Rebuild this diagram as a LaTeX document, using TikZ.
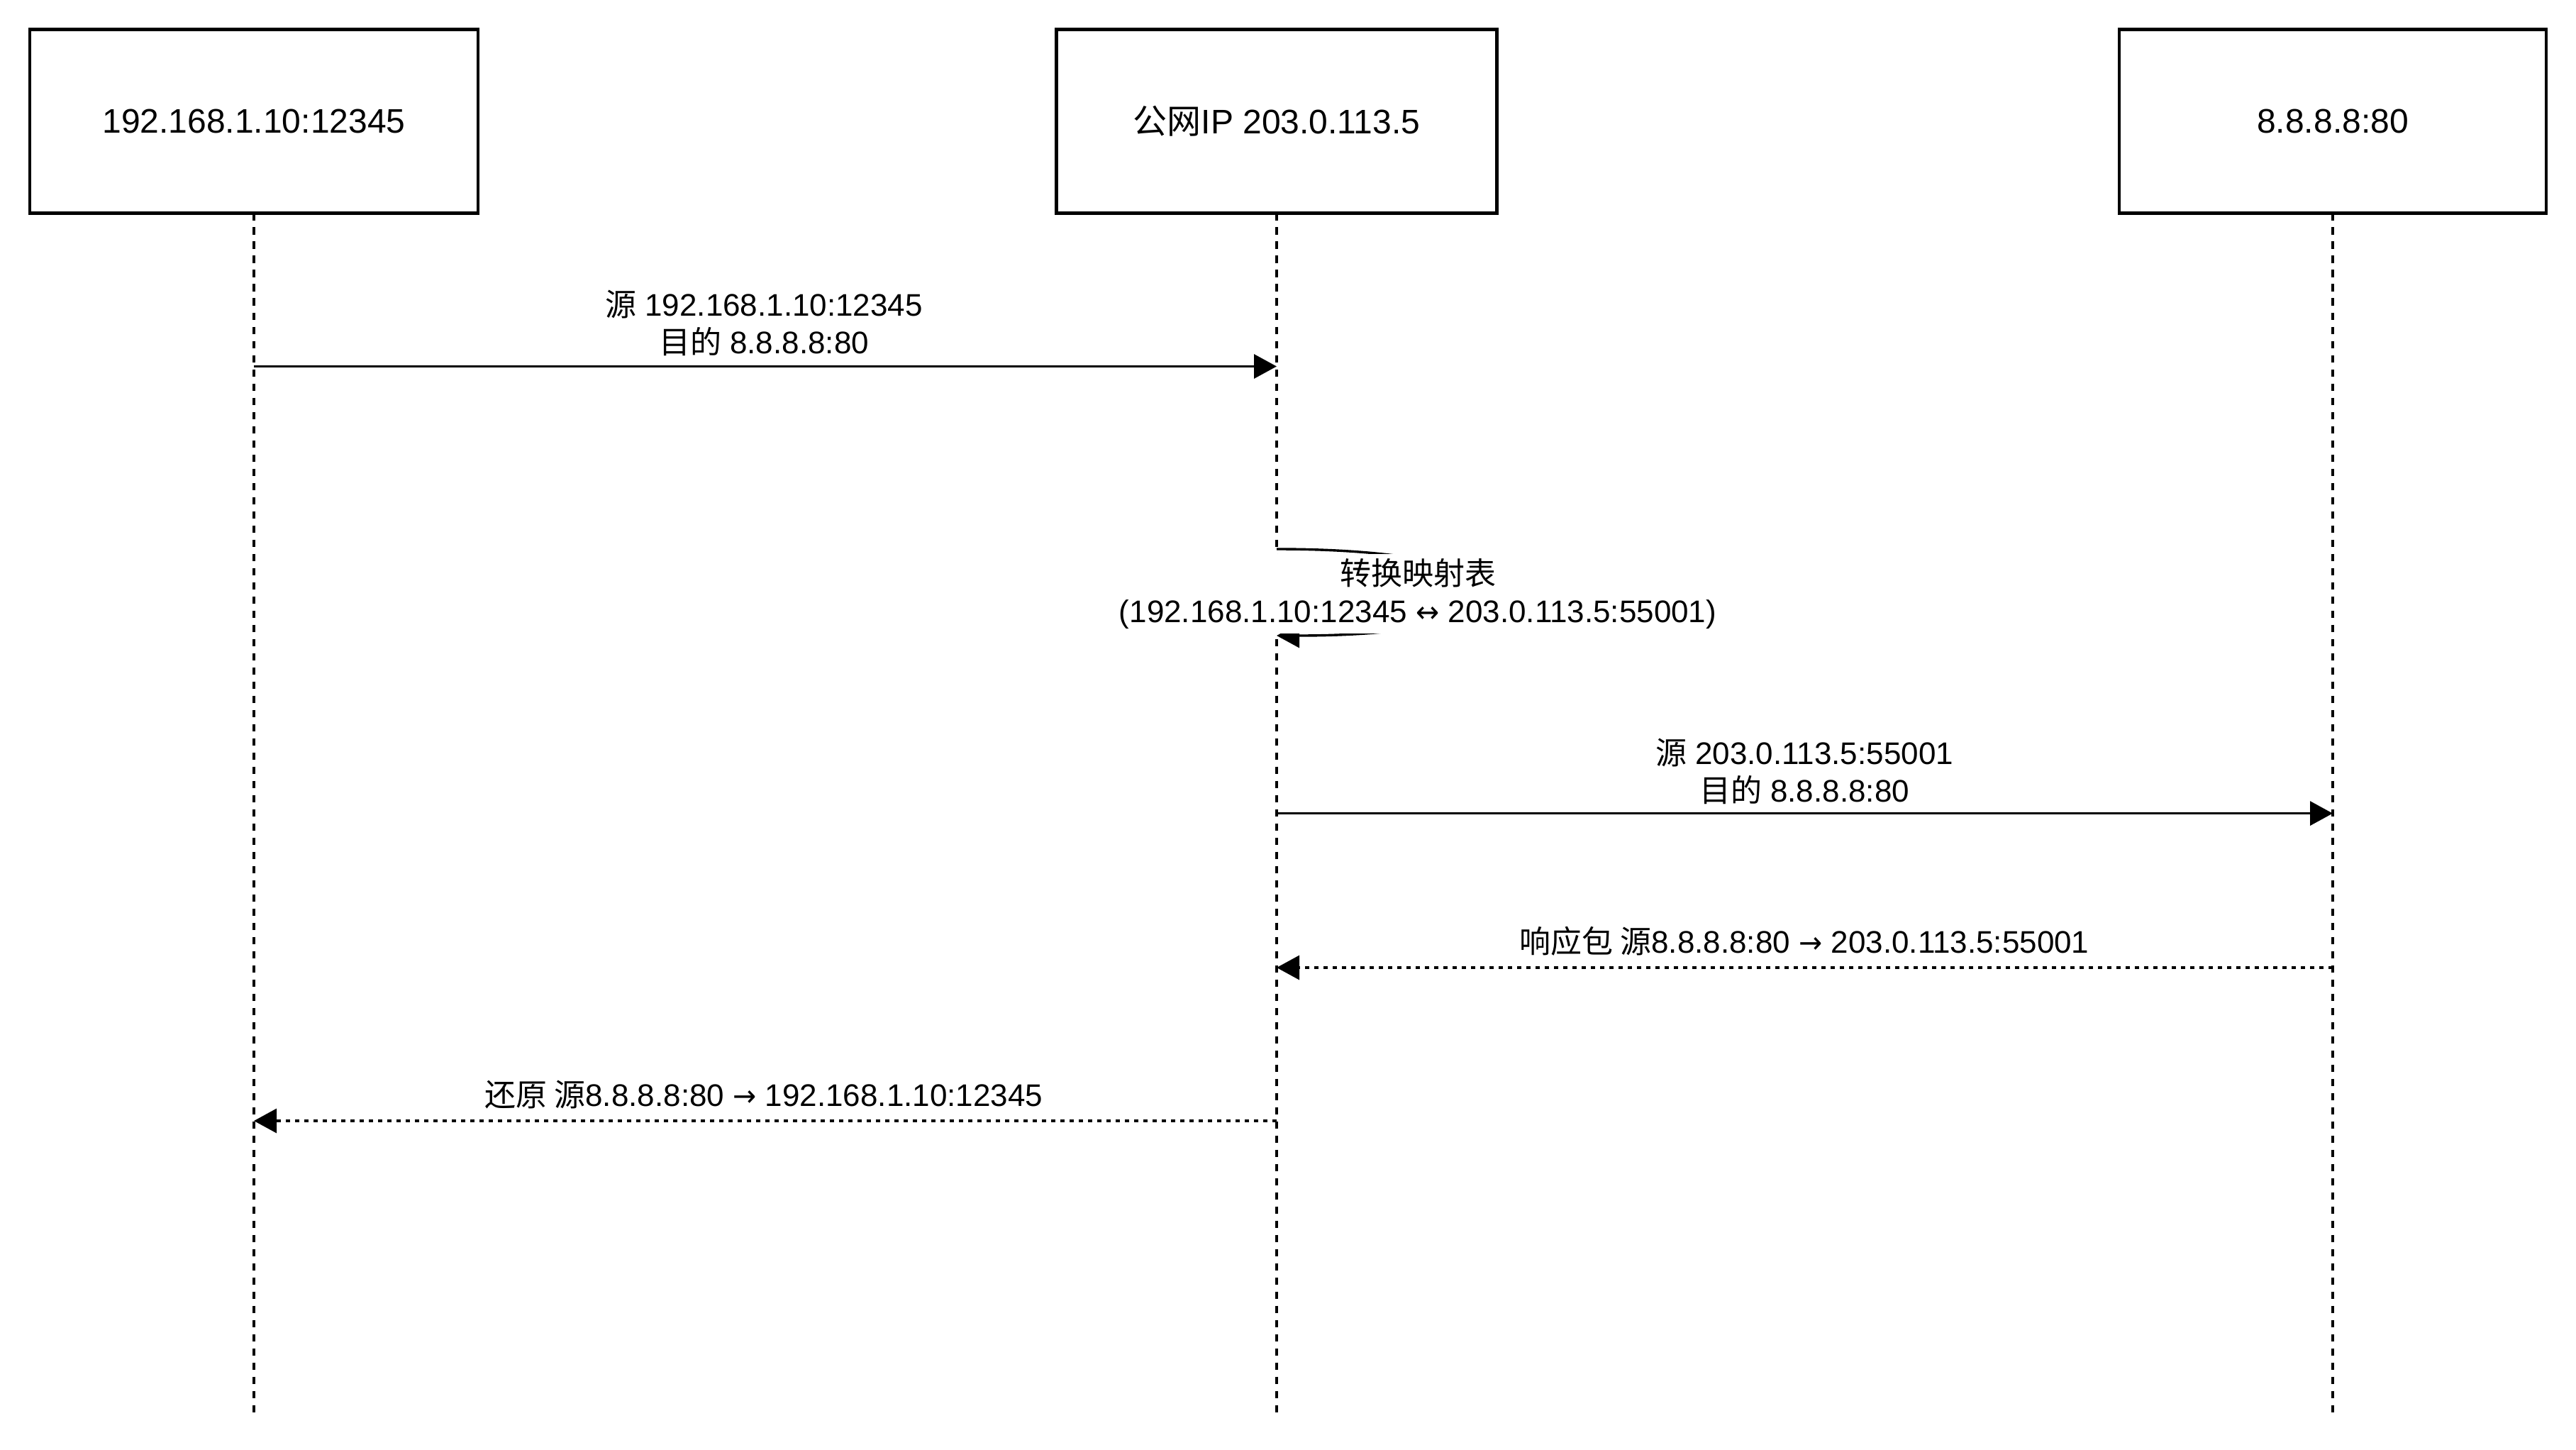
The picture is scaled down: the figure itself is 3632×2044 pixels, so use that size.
\documentclass[tikz,border=0pt]{standalone}
\usepackage{fontspec}
\setmainfont{Liberation Sans}
\newfontfamily\cjk{Noto Sans CJK SC}
\newfontfamily\arrfont{DejaVu Sans}
\usetikzlibrary{arrows.meta}
\newcommand{\rarr}{{\arrfont\scalebox{0.9}[0.95]{→}}}
\newcommand{\lrarr}{{\arrfont\scalebox{0.9}[0.95]{↔}}}
\begin{document}
\begin{tikzpicture}[x=0.25pt,y=-0.25pt,
  every node/.style={font=\fontsize{11pt}{13.25pt}\selectfont, inner sep=0pt, outer sep=0pt},
  actor/.style={draw=black, line width=1.1pt, fill=white, minimum height=64.75pt, font=\fontsize{12pt}{14pt}\selectfont},
  lifeline/.style={line width=1pt, dash pattern=on 2.6pt off 2.4pt},
  msg/.style={line width=0.85pt, -{Triangle[length=8pt,width=8.5pt]}},
  reply/.style={line width=0.85pt, dash pattern=on 1.5pt off 1.75pt, -{Triangle[length=8pt,width=8.5pt]}},
  lbl/.style={align=center, fill=white, inner xsep=1pt, inner ysep=1.5pt}
]
\useasboundingbox (0,0) rectangle (3632,2044);
% actors
\node[actor, minimum width=158pt] (a1) at (358,171) {192.168.1.10:12345};
\node[actor, minimum width=155.25pt] (a2) at (1800,171) {{\cjk 公网}IP 203.0.113.5};
\node[actor, minimum width=150.5pt] (a3) at (3289,171) {8.8.8.8:80};
% lifeline ends
\coordinate (e1) at (358,1992);
\coordinate (e2) at (1800,1992);
\coordinate (e3) at (3289,1992);
\draw[lifeline] (a1.south) -- (e1);
\draw[lifeline] (a2.south) -- (e2);
\draw[lifeline] (a3.south) -- (e3);
% message points
\coordinate (m1s) at (358,516.5);
\coordinate (m1e) at (1800,516.5);
\coordinate (l1s) at (1800,774);
\coordinate (l1e) at (1800,896);
\coordinate (m3s) at (1800,1146.6);
\coordinate (m3e) at (3289,1146.6);
\coordinate (m4s) at (3289,1364);
\coordinate (m4e) at (1800,1364);
\coordinate (m5s) at (1800,1580);
\coordinate (m5e) at (358,1580);
% messages
\draw[msg] (m1s) -- (m1e);
\node[lbl] (t1) at (1077,455) {{\cjk 源} 192.168.1.10:12345\\{\cjk 目的} 8.8.8.8:80};
\draw[msg] (l1s) .. controls (2200,774) and (2200,896) .. (l1e);
\node[lbl] (t2) at (1999,837) {{\cjk 转换映射表}\\(192.168.1.10:12345 \lrarr{} 203.0.113.5:55001)};
\draw[msg] (m3s) -- (m3e);
\node[lbl] (t3) at (2544,1087) {{\cjk 源} 203.0.113.5:55001\\{\cjk 目的} 8.8.8.8:80};
\draw[reply] (m4s) -- (m4e);
\node[lbl] (t4) at (2544,1327) {{\cjk 响应包 源}8.8.8.8:80 \rarr{} 203.0.113.5:55001};
\draw[reply] (m5s) -- (m5e);
\node[lbl] (t5) at (1077,1543) {{\cjk 还原 源}8.8.8.8:80 \rarr{} 192.168.1.10:12345};
\end{tikzpicture}
\end{document}
